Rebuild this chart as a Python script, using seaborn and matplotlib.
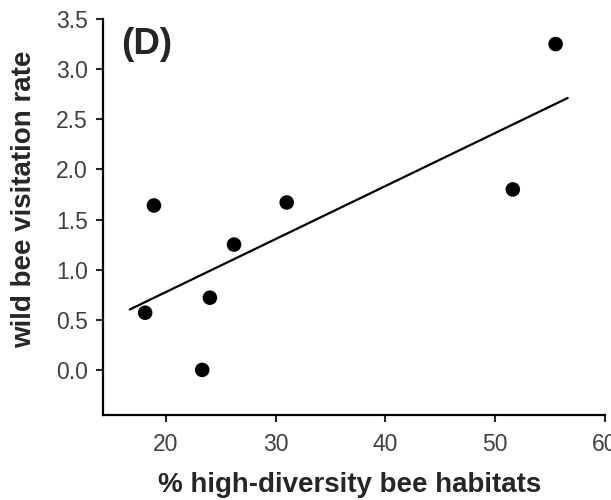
import numpy as np
import pandas as pd
import matplotlib
matplotlib.use("Agg")
import matplotlib.pyplot as plt
import seaborn as sns

# data
habitat_pct = [18.1, 18.9, 23.3, 24.0, 26.2, 31.0, 51.6, 55.5]
visitation = [0.57, 1.64, 0.00, 0.72, 1.25, 1.67, 1.80, 3.25]
fit_x_range = [16.7, 56.6]
x_ticks = [20, 30, 40, 50, 60]
y_ticks = [0.0, 0.5, 1.0, 1.5, 2.0, 2.5, 3.0, 3.5]

sns.set_style("ticks")
plt.rcParams['font.family'] = ['Liberation Sans', 'DejaVu Sans']

df = pd.DataFrame({"x": habitat_pct, "y": visitation})
slope, intercept = np.polyfit(df["x"], df["y"], 1)
line_df = pd.DataFrame({"x": fit_x_range,
                        "y": [intercept + slope * v for v in fit_x_range]})

fig = plt.figure(figsize=(6.11, 5.0), dpi=100)
ax = fig.add_axes([103/611, 85/500, (605-103)/611, (415-19)/500])

sns.lineplot(data=line_df, x="x", y="y", ax=ax, color="black", linewidth=1.6)
sns.scatterplot(data=df, x="x", y="y", ax=ax, color="black", s=110,
                edgecolor="none", zorder=3)

ax.set_xlim(14.26, 60)
ax.set_ylim(-0.45, 3.5)
ax.set_xticks(x_ticks)
ax.set_yticks(y_ticks)
ax.set_xticklabels([str(t) for t in x_ticks])
ax.set_yticklabels([f"{t:.1f}" for t in y_ticks])
ax.tick_params(axis="both", labelsize=16.5, labelcolor="#404040", width=1.5,
               length=5, direction="out")
ax.tick_params(axis="x", pad=8)
ax.tick_params(axis="y", pad=6)
for s in ["left", "bottom"]:
    ax.spines[s].set_linewidth(1.6)
    ax.spines[s].set_color("black")
sns.despine(ax=ax)

ax.set_xlabel("% high-diversity bee habitats", fontsize=20, fontweight="bold")
ax.set_ylabel("wild bee visitation rate", fontsize=20, fontweight="bold")
ax.xaxis.set_label_coords(0.492, -0.145)
ax.yaxis.set_label_coords(-0.132, 0.545)
ax.text(0.037, 0.935, "(D)", transform=ax.transAxes, fontsize=26.5,
        fontweight="bold", va="center", ha="left")

fig.savefig("out.png", dpi=100)
